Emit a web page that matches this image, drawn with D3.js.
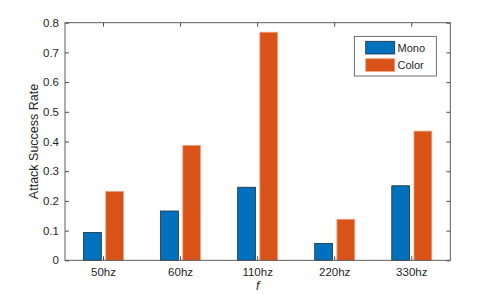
<!DOCTYPE html>
<html><head><meta charset="utf-8">
<script src="https://cdn.jsdelivr.net/npm/d3@7"></script>
<style>body{margin:0;background:#fff;}svg{display:block;font-family:"Liberation Sans",Arial,sans-serif;}</style>
</head><body>
<script>
const categories = ["50hz","60hz","110hz","220hz","330hz"];
const seriesNames = ["Mono","Color"];
const mono = [0.094,0.166,0.246,0.057,0.251];
const color = [0.232,0.387,0.768,0.138,0.435];
const yTicks = [0,0.1,0.2,0.3,0.4,0.5,0.6,0.7,0.8];

const W=498,H=295;
const L=65,R=450.3,T=22.7,B=260.3;
const svg=d3.select("body").append("svg").attr("width",W).attr("height",H);
const x=d3.scaleBand().domain(categories).range([L,R]);
const y=d3.scaleLinear().domain([0,0.8]).range([B,T]);
const fills=["#0072BD","#D95319"];
const strokes=["#1c2d3c","#f0a080"];
const bw=17.8, off=11.1;
const data=[mono,color];
data.forEach((vals,si)=>{
  svg.append("g").selectAll("rect").data(vals).join("rect")
    .attr("x",(d,i)=>x(categories[i])+x.bandwidth()/2+(si===0?-off:off)-bw/2)
    .attr("y",d=>y(d))
    .attr("width",bw)
    .attr("height",d=>B-y(d))
    .attr("fill",fills[si])
    .attr("stroke",strokes[si]).attr("stroke-width",0.8);
});
const axColor="#4d4d4d";
// box
svg.append("rect").attr("x",L).attr("y",T).attr("width",R-L).attr("height",B-T)
  .attr("fill","none").attr("stroke",axColor).attr("stroke-width",0.9);
// y axis left
const yl=svg.append("g").attr("transform",`translate(${L},0)`)
  .call(d3.axisLeft(y).tickValues(yTicks).tickFormat(d=>d===0?"0":d3.format(".1f")(d)).tickSizeInner(-4).tickSizeOuter(0).tickPadding(6));
yl.select(".domain").remove();
yl.selectAll("line").attr("stroke",axColor);
yl.selectAll("text").attr("fill","#262626").style("font-size","11.5px").style("font-family","Liberation Sans, Arial, sans-serif");
// y ticks right
svg.append("g").attr("transform",`translate(${R},0)`)
  .call(d3.axisRight(y).tickValues(yTicks).tickSizeInner(-4).tickSizeOuter(0).tickFormat(""))
  .call(g=>{g.select(".domain").remove();g.selectAll("line").attr("stroke",axColor);});
// x axis
const xb=svg.append("g").attr("transform",`translate(0,${B})`)
  .call(d3.axisBottom(x).tickSizeInner(-4).tickSizeOuter(0).tickPadding(8));
xb.select(".domain").remove();
xb.selectAll("line").attr("stroke",axColor);
xb.selectAll("text").attr("fill","#262626").style("font-size","11.5px").style("font-family","Liberation Sans, Arial, sans-serif");
svg.append("g").attr("transform",`translate(0,${T})`)
  .call(d3.axisTop(x).tickSizeInner(-4).tickSizeOuter(0).tickFormat(""))
  .call(g=>{g.select(".domain").remove();g.selectAll("line").attr("stroke",axColor);});
// labels
svg.append("text").attr("transform",`translate(37.5,${(T+B)/2}) rotate(-90)`)
  .attr("text-anchor","middle").attr("fill","#262626").style("font-size","12.5px").text("Attack Success Rate");
svg.append("text").attr("x",(L+R)/2).attr("y",290).attr("text-anchor","middle")
  .attr("fill","#262626").style("font-size","12.5px").style("font-style","italic").text("f");
// legend
const lg=svg.append("g");
lg.append("rect").attr("x",354.3).attr("y",36.3).attr("width",82).attr("height",39.7)
  .attr("fill","#fff").attr("stroke","#333").attr("stroke-width",0.7);
seriesNames.forEach((n,i)=>{
  lg.append("rect").attr("x",365.7).attr("y",41.3+i*17.4).attr("width",29).attr("height",12.7)
    .attr("fill",fills[i]).attr("stroke",strokes[i]).attr("stroke-width",0.8);
  lg.append("text").attr("x",397.5).attr("y",52+i*17.4).attr("fill","#262626")
    .style("font-size","11px").text(n);
});
</script>
</body></html>
